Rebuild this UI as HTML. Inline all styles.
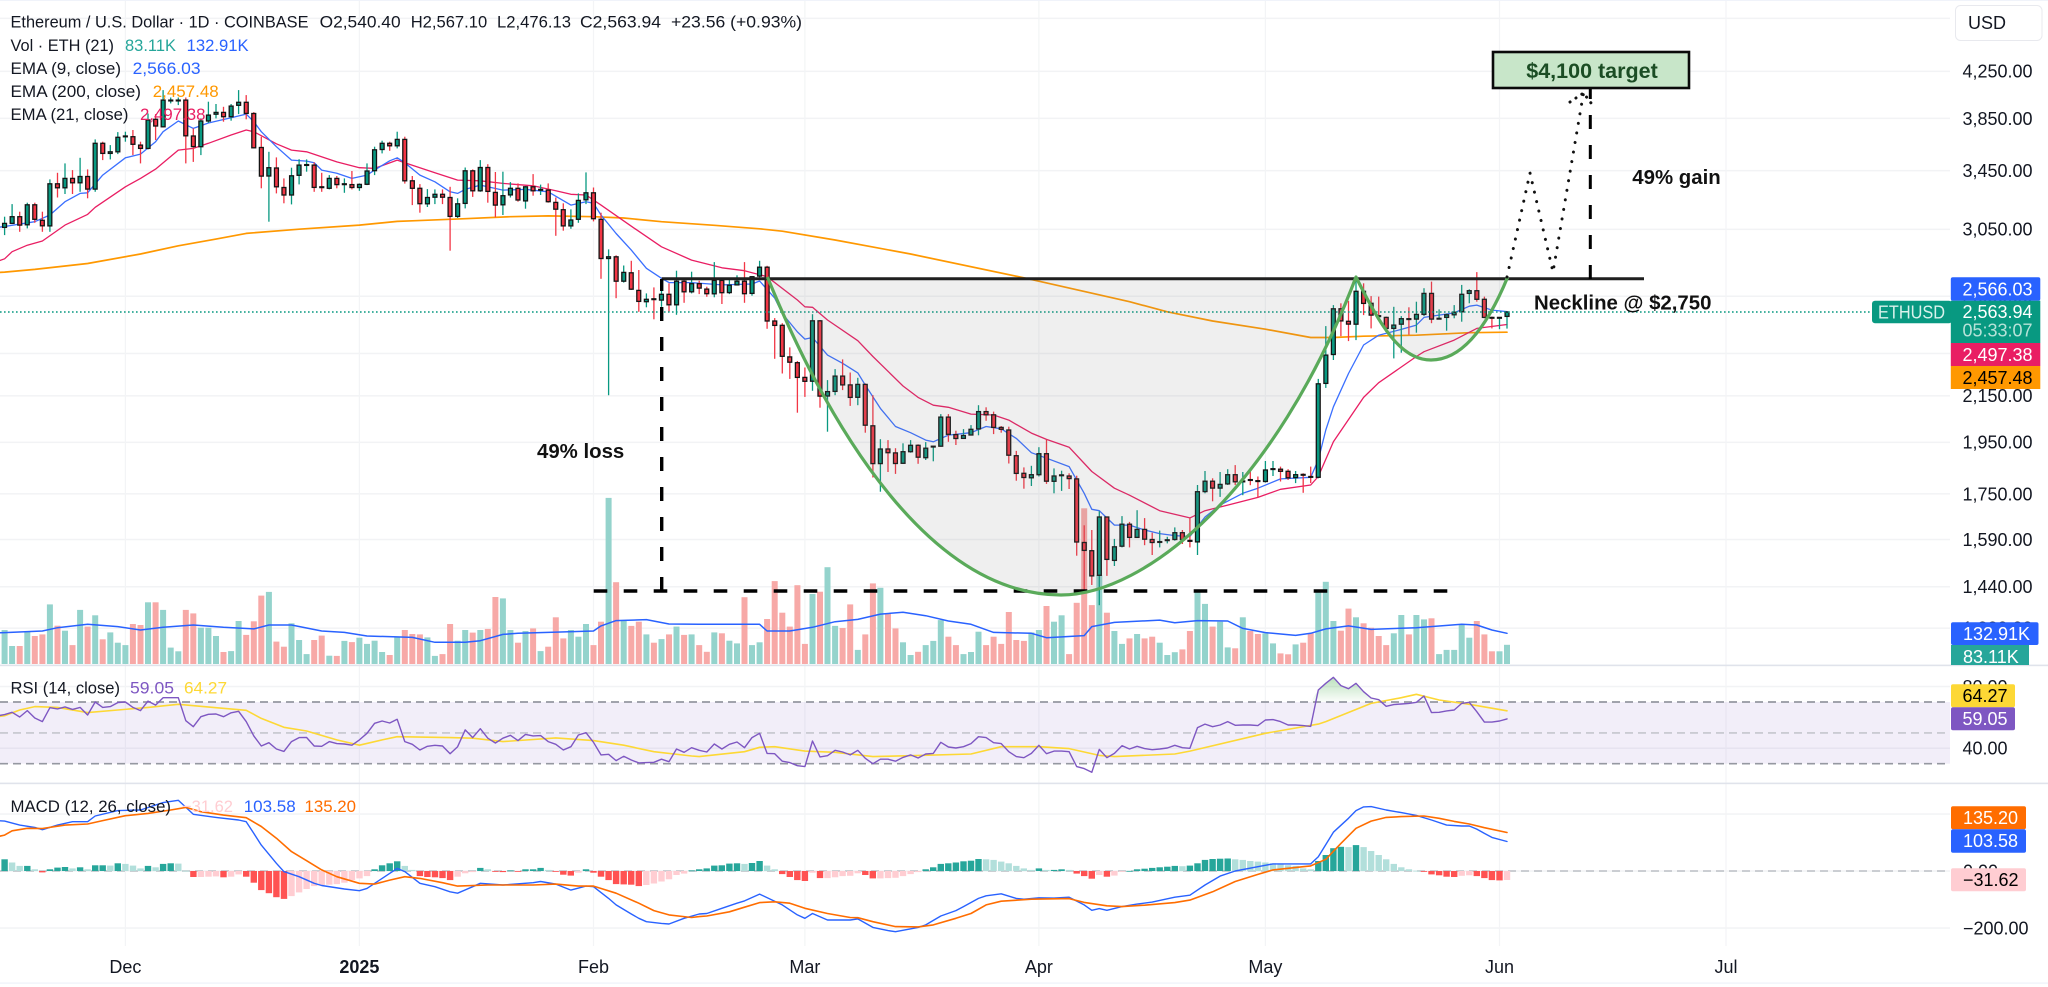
<!DOCTYPE html>
<html lang="en">
<head>
<meta charset="utf-8">
<title>Ethereum / U.S. Dollar chart</title>
<style>
html,body{margin:0;padding:0;background:#fff;width:2048px;height:987px;overflow:hidden}
svg{display:block;font-family:"Liberation Sans",sans-serif}
.axis{font-size:18px;fill:#131722}
.leg{font-size:17px;fill:#131722}
.lab{font-size:18px}
.note{font-size:20.4px;font-weight:bold;fill:#111}
</style>
</head>
<body>
<svg id="chart" width="2048" height="987" viewBox="0 0 2048 987" xmlns="http://www.w3.org/2000/svg">
  <defs>
    <linearGradient id="obGrad" x1="0" y1="0" x2="0" y2="1">
      <stop offset="0" stop-color="#4caf50" stop-opacity=".38"/>
      <stop offset="1" stop-color="#4caf50" stop-opacity=".02"/>
    </linearGradient>
  </defs>
  <rect x="0" y="0" width="2048" height="987" fill="#ffffff"/>
  <g id="grid"></g>
  <rect x="0" y="702" width="1950" height="61.7" fill="#7e57c2" fill-opacity=".1"/>
  <g id="rsiGuides"></g>
  <g id="panes">
    <rect x="0" y="0" width="2048" height="1" fill="#f0f3fa"/>
    <rect x="0" y="664.6" width="2048" height="1.6" fill="#e0e3eb"/>
    <rect x="0" y="782.6" width="2048" height="1.6" fill="#e0e3eb"/>
    <rect x="0" y="982.4" width="2048" height="1.4" fill="#f0f3fa"/>
  </g>
  <g id="volume"></g>
  <g id="macdHist"></g>
  <g id="lines"></g>
  <g id="candles"></g>
  <line x1="0" y1="312" x2="1950" y2="312" stroke="#089981" stroke-width="1.5" stroke-dasharray="1.6 2.4"/>

  <g>
    <path fill="#808080" fill-opacity=".125" d="M767.4 278 C830 430 930 595 1061 595 C1145 595 1275 490 1356 278 Z"/>
    <path fill="#808080" fill-opacity=".125" d="M1356 278 C1380 325 1400 360 1431 360 C1465 360 1490 320 1507.7 278 Z"/>
    <line x1="661.7" y1="278.7" x2="1644" y2="278.7" stroke="#1f1f1f" stroke-width="3"/>
    <line x1="661.7" y1="591" x2="661.7" y2="279" stroke="#000" stroke-width="3.4" stroke-dasharray="14 16"/>
    <line x1="593.7" y1="591" x2="1447.5" y2="591" stroke="#000" stroke-width="3.4" stroke-dasharray="13.6 16.4"/>
    <line x1="1590.3" y1="279" x2="1590.3" y2="88" stroke="#000" stroke-width="3" stroke-dasharray="14 16"/>
    <path fill="none" stroke="#5aaa5a" stroke-width="3.2" stroke-linejoin="round" d="M767.4 277 C830 430 930 595 1061 595 C1145 595 1275 490 1356 277 C1380 325 1400 360 1431 360 C1465 360 1490 320 1507.7 277"/>
    <path fill="none" stroke="#111" stroke-width="3" stroke-linecap="round" stroke-dasharray="0.1 9.6" d="M1507 277 L1530 173 L1553 272 L1583.5 93"/>
    <path fill="none" stroke="#111" stroke-width="3" stroke-linecap="round" stroke-dasharray="0.1 7" d="M1570 102 L1583.5 93 L1594 107"/>
    <rect x="1493" y="52" width="196" height="36" fill="#c8e6c9" stroke="#0a0a0a" stroke-width="2.6"/>
    <text x="1592" y="78" text-anchor="middle" font-size="21.5" font-weight="bold" fill="#1b4d24">$4,100 target</text>
    <text class="note" x="1534" y="309.5">Neckline @ $2,750</text>
    <text class="note" x="1632.3" y="184">49% gain</text>
    <text class="note" x="537" y="458">49% loss</text>
  </g>

  <g>
    <text class="leg" x="10.5" y="27.5" textLength="298" lengthAdjust="spacingAndGlyphs">Ethereum / U.S. Dollar · 1D · COINBASE</text>
    <text class="leg" x="319.6" y="27.5" textLength="81" lengthAdjust="spacingAndGlyphs">O2,540.40</text>
    <text class="leg" x="410.7" y="27.5" textLength="76.5" lengthAdjust="spacingAndGlyphs">H2,567.10</text>
    <text class="leg" x="497" y="27.5" textLength="74" lengthAdjust="spacingAndGlyphs">L2,476.13</text>
    <text class="leg" x="580" y="27.5" textLength="81" lengthAdjust="spacingAndGlyphs">C2,563.94</text>
    <text class="leg" x="671" y="27.5" textLength="131" lengthAdjust="spacingAndGlyphs">+23.56 (+0.93%)</text>

    <text class="leg" x="10.5" y="51" textLength="103.5" lengthAdjust="spacingAndGlyphs">Vol · ETH (21)</text>
    <text class="leg" x="125" y="51" style="fill:#26a69a" textLength="51" lengthAdjust="spacingAndGlyphs">83.11K</text>
    <text class="leg" x="186.6" y="51" style="fill:#2962ff" textLength="62" lengthAdjust="spacingAndGlyphs">132.91K</text>

    <text class="leg" x="10.5" y="74" textLength="110.5" lengthAdjust="spacingAndGlyphs">EMA (9, close)</text>
    <text class="leg" x="132.6" y="74" style="fill:#2962ff" textLength="68" lengthAdjust="spacingAndGlyphs">2,566.03</text>

    <text class="leg" x="10.5" y="97" textLength="130.5" lengthAdjust="spacingAndGlyphs">EMA (200, close)</text>
    <text class="leg" x="152.7" y="97" style="fill:#ff9800" textLength="66" lengthAdjust="spacingAndGlyphs">2,457.48</text>

    <text class="leg" x="10.5" y="120" textLength="118" lengthAdjust="spacingAndGlyphs">EMA (21, close)</text>
    <text class="leg" x="140" y="120" style="fill:#e91e63" textLength="65.5" lengthAdjust="spacingAndGlyphs">2,497.38</text>

    <text class="leg" x="10.5" y="693.3" textLength="109.5" lengthAdjust="spacingAndGlyphs">RSI (14, close)</text>
    <text class="leg" x="130" y="693.3" style="fill:#7e57c2" textLength="44" lengthAdjust="spacingAndGlyphs">59.05</text>
    <text class="leg" x="184" y="693.3" style="fill:#fdd835" textLength="43" lengthAdjust="spacingAndGlyphs">64.27</text>

    <text class="leg" x="10.5" y="812" textLength="160.5" lengthAdjust="spacingAndGlyphs">MACD (12, 26, close)</text>
    <text class="leg" x="182" y="812" style="fill:#ffcdd2" textLength="51" lengthAdjust="spacingAndGlyphs">−31.62</text>
    <text class="leg" x="243.7" y="812" style="fill:#2962ff" textLength="52" lengthAdjust="spacingAndGlyphs">103.58</text>
    <text class="leg" x="304.5" y="812" style="fill:#ff6d00" textLength="51.5" lengthAdjust="spacingAndGlyphs">135.20</text>
  </g>

  <g id="axisLabels"></g>

  <g>
    <rect x="1955.5" y="5.5" width="86.5" height="35" rx="5" fill="#fff" stroke="#e8e9ee" stroke-width="1"/>
    <text class="axis" x="1968" y="29">USD</text>
  </g>

  <g>
    <rect x="1872" y="300.7" width="80" height="22.6" rx="3" fill="#089981"/>
    <text class="lab" x="1878" y="318.5" fill="#d9f2ec" textLength="67" lengthAdjust="spacingAndGlyphs">ETHUSD</text>

    <rect x="1950.8" y="277.3" width="89.5" height="23.4" rx="2" fill="#2962ff"/>
    <text class="lab" x="1962.5" y="295.5" fill="#fff">2,566.03</text>

    <rect x="1950.8" y="300.7" width="89.5" height="42.3" fill="#089981"/>
    <text class="lab" x="1962.5" y="318" fill="#fff">2,563.94</text>
    <text class="lab" x="1962.5" y="336.5" fill="#b6e2d8">05:33:07</text>

    <rect x="1950.8" y="343" width="89.5" height="23" fill="#e91e63"/>
    <text class="lab" x="1962.5" y="360.8" fill="#fff">2,497.38</text>

    <rect x="1950.8" y="366" width="89.5" height="23" fill="#ff9800"/>
    <text class="lab" x="1962.5" y="383.8" fill="#000">2,457.48</text>

    <rect x="1951" y="622.3" width="87.5" height="22.7" rx="2" fill="#2962ff"/>
    <text class="lab" x="1963" y="640" fill="#fff">132.91K</text>
    <rect x="1951" y="645" width="78" height="20" fill="#26a69a"/>
    <text class="lab" x="1963" y="663" fill="#fff">83.11K</text>

    <rect x="1951" y="684.3" width="64" height="23" rx="2" fill="#fdd835"/>
    <text class="lab" x="1962.5" y="702" fill="#000">64.27</text>
    <rect x="1951" y="707.3" width="64" height="23" rx="2" fill="#7e57c2"/>
    <text class="lab" x="1962.5" y="725" fill="#fff">59.05</text>

    <rect x="1951" y="806.3" width="75" height="23" rx="2" fill="#ff6d00"/>
    <text class="lab" x="1963" y="824" fill="#fff">135.20</text>
    <rect x="1951" y="829.3" width="75" height="23.4" rx="2" fill="#2962ff"/>
    <text class="lab" x="1963" y="847" fill="#fff">103.58</text>
    <rect x="1951" y="868.3" width="75" height="23" rx="2" fill="#ffcdd2"/>
    <text class="lab" x="1963" y="886" fill="#000">−31.62</text>
  </g>
</svg>

<script>
// ---- Candles: one entry per day, Nov 15 2024 to Jun 2 2025 ----
const opens = [3062,3088,3132,3079,3211,3108,3072,3356,3328,3394,3363,3408,3319,3654,3577,3589,3705,3705,3640,3615,3843,3783,3995,3995,4001,3710,3628,3829,3884,3899,3864,3957,3982,3890,3622,3411,3469,3330,3278,3416,3490,3490,3335,3324,3394,3352,3350,3330,3352,3449,3607,3654,3635,3684,3377,3324,3218,3263,3283,3261,3134,3221,3449,3307,3473,3296,3211,3278,3324,3238,3335,3314,3312,3227,3178,3072,3115,3245,3293,3115,2869,2879,2735,2784,2683,2620,2636,2629,2661,2603,2735,2675,2721,2690,2664,2740,2670,2714,2735,2666,2765,2817,2516,2493,2333,2305,2235,2217,2517,2149,2170,2241,2200,2143,2202,2019,1865,1923,1907,1866,1912,1938,1888,1932,1934,2056,1982,1966,1980,2006,2080,2066,2012,2001,1896,1827,1810,1822,1904,1797,1819,1817,1806,1580,1553,1475,1667,1522,1568,1642,1597,1624,1590,1581,1587,1590,1613,1587,1582,1758,1797,1771,1787,1822,1796,1803,1799,1796,1843,1843,1835,1811,1823,1815,1812,2207,2345,2581,2514,2499,2678,2611,2544,2535,2477,2499,2528,2526,2551,2666,2528,2535,2549,2565,2666,2681,2633,2535,2533,2540.40];
const highs = [3132,3216,3165,3225,3225,3165,3387,3434,3503,3454,3544,3459,3684,3666,3640,3741,3744,3757,3666,3890,3885,4086,4023,4023,4023,3770,3850,3987,3968,3945,3968,4086,4043,3901,3705,3589,3547,3394,3471,3534,3532,3510,3434,3418,3411,3394,3447,3359,3503,3628,3674,3666,3744,3705,3411,3354,3319,3317,3317,3335,3255,3473,3459,3527,3497,3440,3442,3368,3359,3340,3425,3350,3359,3261,3221,3181,3289,3437,3330,3158,2924,2888,2827,2855,2800,2666,2700,2700,2723,2796,2746,2790,2738,2704,2847,2749,2746,2769,2847,2765,2855,2825,2531,2504,2380,2313,2282,2552,2521,2222,2274,2321,2258,2233,2207,2153,1963,1959,1926,1946,1959,1942,1951,1934,2069,2069,1998,2005,2022,2108,2099,2080,2018,2015,1915,1850,1856,1930,1962,1846,1837,1827,1818,1638,1622,1687,1667,1592,1670,1650,1691,1663,1613,1620,1599,1631,1622,1665,1783,1836,1808,1832,1843,1859,1832,1837,1815,1875,1875,1853,1843,1836,1827,1853,2228,2489,2601,2611,2625,2748,2723,2651,2648,2539,2592,2542,2589,2620,2695,2733,2578,2556,2601,2714,2689,2788,2648,2539,2535,2567.10];
const lows = [3013,3084,3034,3056,3092,3034,3034,3261,3285,3285,3300,3255,3300,3527,3532,3572,3666,3564,3503,3607,3679,3778,3973,3959,3503,3514,3564,3813,3850,3823,3831,3885,3843,3615,3324,3099,3289,3221,3214,3352,3442,3300,3300,3317,3324,3293,3317,3307,3347,3418,3577,3597,3615,3357,3209,3158,3196,3216,3216,2916,3123,3187,3265,3300,3225,3128,3143,3261,3232,3185,3273,3278,3225,3009,3041,3053,3092,3216,3101,2749,2153,2639,2727,2685,2565,2589,2525,2592,2565,2549,2614,2666,2662,2647,2644,2607,2662,2714,2614,2653,2752,2475,2324,2253,2228,2075,2145,2173,2097,1994,2153,2176,2105,2108,1990,1811,1758,1832,1825,1864,1908,1864,1879,1874,1932,1952,1939,1965,1978,1979,2040,1984,1990,1865,1799,1769,1779,1815,1787,1752,1761,1768,1537,1420,1445,1385,1473,1504,1564,1564,1595,1571,1539,1564,1577,1586,1575,1564,1539,1752,1723,1739,1783,1783,1745,1782,1737,1792,1817,1796,1802,1790,1754,1790,1808,2186,2318,2437,2412,2417,2547,2477,2525,2472,2326,2354,2445,2455,2542,2504,2525,2465,2530,2512,2611,2620,2530,2477,2473,2476.13];
const closes = [3088,3132,3077,3211,3115,3072,3356,3328,3394,3363,3408,3319,3654,3577,3589,3700,3710,3646,3615,3837,3789,4001,4001,4001,3712,3628,3829,3877,3899,3864,3951,3982,3890,3620,3411,3471,3335,3278,3413,3490,3494,3330,3330,3394,3350,3356,3330,3352,3447,3604,3654,3635,3684,3377,3324,3218,3261,3283,3263,3134,3218,3449,3307,3473,3303,3209,3273,3324,3243,3335,3307,3317,3232,3181,3072,3110,3241,3293,3119,2869,2879,2735,2786,2690,2622,2633,2633,2661,2603,2735,2675,2721,2696,2664,2740,2670,2712,2735,2664,2761,2817,2516,2493,2336,2307,2235,2217,2517,2149,2169,2241,2200,2143,2202,2021,1865,1923,1908,1865,1912,1938,1890,1926,1934,2056,1983,1966,1978,2004,2080,2066,2012,2004,1898,1827,1811,1822,1904,1797,1817,1821,1807,1582,1554,1473,1667,1525,1566,1642,1597,1624,1591,1580,1583,1589,1613,1590,1584,1758,1797,1771,1785,1822,1795,1798,1802,1798,1840,1845,1835,1810,1822,1822,1813,2205,2342,2581,2516,2499,2678,2611,2547,2539,2477,2494,2528,2526,2551,2666,2526,2530,2549,2563,2661,2681,2633,2535,2533,2535,2563.94];

// ---- Volume, thousands of ETH ----
const volumes = [147,78,78,140,121,128,258,166,144,82,234,162,211,107,137,92,82,173,169,267,267,234,71,55,234,219,157,157,121,52,56,186,126,185,296,312,97,75,176,104,43,104,123,36,35,100,95,114,87,101,52,39,115,147,130,128,115,35,43,173,101,147,136,147,152,290,284,147,92,143,154,56,75,202,111,147,118,173,82,183,719,354,188,165,183,128,92,108,128,162,126,128,82,53,137,133,101,89,289,82,94,195,359,222,162,341,87,303,313,419,165,156,258,61,128,349,330,219,154,94,39,53,82,100,190,118,82,43,52,140,82,118,87,225,104,100,137,147,251,183,211,43,265,674,255,385,222,143,87,111,130,111,118,92,39,51,63,143,320,260,162,183,72,68,202,143,130,133,89,46,42,85,92,133,320,356,186,144,240,202,176,157,121,82,133,212,128,212,193,198,43,61,61,169,114,186,128,55,55,83.11];
const volMaDays = [-1,0,5,7,11,15,18,21,25,29,33,35,38,42,45,48,54,57,61,63,66,68,72,78,79,81,85,88,92,100,101,104,107,110,113,116,119,122,125,128,131,136,138,143,144,147,153,155,158,162,164,167,171,173,175,178,181,187,193,195,197,199];
const volMaValues = [135,136,143,157,172,162,147,159,169,159,152,169,169,143,137,121,115,94,94,101,128,133,137,143,165,188,192,173,172,172,143,143,159,183,193,216,224,209,186,172,137,133,114,123,162,180,190,179,188,186,154,136,124,133,152,165,150,157,172,169,147,132.91];

// ---- Price EMAs ----
const ema9Days = [-1,0,4,6,8,10,11,13,16,18,20,21,23,25,27,30,32,33,34,36,38,40,41,42,44,46,48,49,51,52,53,55,57,59,60,61,63,66,69,72,75,77,78,79,81,83,85,87,88,91,95,99,100,102,103,105,106,107,109,111,113,114,116,118,120,122,123,125,128,130,132,134,136,138,141,143,144,145,147,149,151,153,155,157,159,161,164,166,169,173,174,175,176,178,180,182,185,187,188,192,194,195,197,199];
const ema9Values = [3062,3068,3099,3143,3232,3289,3293,3418,3544,3572,3666,3744,3829,3770,3813,3855,3885,3823,3744,3628,3527,3520,3508,3454,3431,3394,3418,3454,3522,3544,3508,3418,3370,3300,3289,3317,3347,3312,3317,3300,3209,3232,3221,3143,3023,2920,2810,2752,2727,2727,2714,2719,2736,2640,2556,2459,2422,2430,2342,2302,2256,2199,2094,2016,1990,1959,1952,1980,1990,2016,2006,1966,1908,1886,1853,1752,1694,1689,1639,1639,1622,1610,1603,1600,1667,1709,1752,1771,1806,1812,1879,2001,2101,2253,2392,2442,2472,2494,2535,2559,2595,2601,2574,2566.03];
const ema21Days = [-1,0,1,3,5,8,11,12,16,18,20,23,25,27,30,32,33,36,38,40,44,47,49,52,53,57,60,63,66,70,73,75,77,79,83,87,91,95,98,101,105,106,107,109,113,115,119,121,123,125,128,131,133,136,138,141,144,147,149,153,157,159,162,166,169,173,174,176,180,182,187,188,192,195,199];
const ema21Values = [2850,2867,2910,2950,2976,3077,3147,3194,3335,3394,3461,3602,3615,3654,3718,3757,3744,3650,3602,3589,3514,3471,3466,3527,3508,3434,3382,3377,3359,3342,3307,3283,3278,3209,3070,2940,2859,2813,2796,2761,2629,2592,2589,2521,2414,2335,2195,2143,2108,2099,2069,2065,2043,1988,1962,1930,1834,1771,1745,1689,1664,1689,1709,1737,1767,1783,1815,1952,2143,2210,2335,2359,2417,2477,2497.38];
const ema200Days = [-1,0,4,11,18,23,28,32,39,47,52,54,61,67,72,78,82,87,94,100,103,110,120,135,149,154,160,167,173,176,180,187,194,199];
const ema200Values = [2785,2788,2804,2839,2896,2946,2988,3024,3051,3077,3101,3105,3119,3132,3137,3132,3123,3099,3076,3053,3038,2982,2896,2755,2620,2565,2516,2473,2430,2430,2437,2442,2455,2457.48];

// ---- RSI: first value belongs to the day before the first full candle ----
const rsiFirstDay = -1;
const rsiValues = [61,61.8,63.3,60.3,64.4,59.6,57.3,66.3,65.5,66.8,65.2,66.5,61.6,70,66.5,67,69.6,70,66.5,64.4,70.6,68,72.8,72.8,72.8,57.9,54,60.5,62,62.2,60.5,63,64,57.3,48,41.5,43.6,39.5,38,44.3,46.9,47,41.5,41.3,44.3,43,42.8,42,45.4,49.7,56.2,57.7,56.4,58.8,44.3,42.6,38.9,41.3,41.9,41.5,36.5,41,51.9,46.9,52.7,46.5,43.4,46.5,48.4,45,49,48,48.2,44.3,42.6,38.9,41,48.6,50.1,43.9,35.7,36.1,32,34.8,32.4,30.5,30.7,30.9,32.9,31.3,39.5,37.4,40.4,38.7,37.6,42.8,39.5,42.6,44.1,40.4,46.9,49.7,36.7,36.5,31.6,30.7,28.7,28.1,44.7,34.4,35.2,38.7,37.6,35.7,38.7,33.5,30,32.9,32.9,31.6,34.1,35.7,33.7,36.3,36.7,43.9,40.8,40.2,41,43,47.5,46.9,43.6,43,37.8,34.6,33.9,36.7,41.9,36.5,38.2,38.2,37.8,28.1,26.8,24.4,39.3,33.9,36.7,41.7,39.5,41.3,39.8,39.1,39.5,40.2,41.9,40.4,40,53.4,55.7,54,55.1,57.3,54.9,55.1,55.1,54.7,58.3,58.6,57.3,55.1,55.1,54.7,54.2,77.8,82.1,86,80.6,78.6,82.1,76.7,72.6,71.5,67.2,68.3,68.7,69.1,69.8,73.9,63.1,63.3,64.2,64.8,69.1,69.8,63.7,57,57,57.7,59.05];
const rsiMaDays = [-1,0,2,4,7,11,15,19,23,28,32,34,37,40,44,47,50,52,59,62,66,73,78,82,86,91,92,98,100,102,106,110,115,120,128,132,137,141,145,147,155,157,167,174,175,181,185,187,190,194,199];
const rsiMaValues = [60.5,61.1,64.8,67,66.5,63.1,64.8,66.5,68.5,66.3,64.6,59.4,53.6,51.2,45.4,42,45.4,47.5,46.9,46.5,44.3,46.7,45,42,37.8,35,34.6,37.8,40.6,41,38.2,37.4,34.6,35.2,36.3,41,41,39.8,35.4,34.6,36.3,38.2,49.7,55.7,57.3,69.1,72.8,75,71.3,68.5,64.27];
const rsiBandTop = 70;
const rsiBandMid = 50;
const rsiBandLow = 30;

// ---- MACD ----
const macdDays = [-1,0,2,4,5,7,9,11,12,15,18,21,23,25,28,31,32,33,34,36,37,39,41,42,45,47,48,50,52,53,55,57,59,60,62,63,66,70,71,73,75,77,78,80,81,83,84,85,87,88,90,92,93,95,97,98,100,103,105,106,107,109,112,113,115,117,118,121,122,124,126,127,129,130,132,134,135,137,139,141,143,144,145,146,148,150,152,155,157,159,161,163,166,168,173,174,176,178,179,180,181,183,185,187,189,191,193,194,195,196,197,199];
const macdValues = [177,175,161,153,145,161,173,173,193,212,214,240,248,199,188,179,173,132,91,27,-2,-20,-43,-51,-63,-69,-61,-26,9,-2,-43,-55,-73,-78,-55,-43,-49,-41,-37,-46,-67,-53,-55,-96,-119,-151,-166,-178,-184,-186,-166,-151,-149,-131,-113,-105,-81,-119,-154,-166,-149,-172,-172,-168,-198,-209,-213,-198,-189,-158,-139,-125,-96,-87,-80,-96,-99,-94,-95,-92,-119,-138,-132,-138,-125,-116,-109,-92,-85,-49,-18,0,15,25,25,50,136,185,212,225,226,214,205,195,179,161,158,158,147,132,118,103.58];
const signalDays = [-1,0,1,3,5,8,11,13,16,19,22,24,26,29,32,34,36,38,40,42,44,47,49,51,53,55,58,60,64,70,73,76,78,81,84,86,88,91,92,93,96,98,100,102,104,106,109,112,113,115,118,121,123,126,128,130,132,136,141,143,146,148,151,155,157,160,163,166,168,172,173,175,177,179,181,183,185,188,190,192,194,196,199];
const signalValues = [120,126,141,150,149,161,165,177,194,202,214,223,208,196,187,156,115,68,36,4,-20,-43,-46,-32,-20,-26,-41,-53,-49,-49,-46,-53,-53,-78,-113,-139,-154,-163,-160,-158,-143,-127,-111,-108,-113,-131,-149,-163,-164,-178,-195,-196,-189,-166,-149,-119,-106,-99,-97,-110,-122,-125,-120,-111,-102,-73,-37,-12,4,15,18,41,97,150,175,188,191,193,185,174,165,152,135.2];
const histValues = [41,30,18,18,6,-5,6,12,14,9,13,6,20,20,19,27,25,19,9,18,13,25,27,26,1,-21,-21,-20,-19,-22,-20,-12,-20,-41,-67,-78,-92,-98,-88,-75,-63,-53,-49,-48,-46,-41,-32,-26,-18,6,20,27,34,18,4,-18,-21,-22,-25,-32,-20,-8,-4,11,6,-2,-4,2,-2,6,6,11,4,-2,-13,-16,-6,6,-6,-20,-32,-46,-47,-48,-53,-49,-44,-37,-29,-14,-9,2,6,9,19,20,26,27,25,28,35,19,6,-11,-21,-32,-35,-6,-25,-25,-22,-18,-17,-8,-14,-26,-26,-25,-24,-18,-11,-4,6,13,25,27,30,34,36,42,41,39,33,27,18,9,4,9,4,4,6,4,-9,-18,-27,-14,-20,-16,-2,0.5,6,8,11,13,15,18,17,19,27,39,42,43,44,41,39,35,33,30,27,25,20,18,9,6,35,56,80,85,84,91,84,70,56,41,25,13,6,1,-2,-12,-15,-20,-21,-17,-15,-18,-25,-32,-33,-31.62];

// ---- Axis ticks ----
const priceTicks = [4750,4250,3850,3450,3050,2650,2350,2150,1950,1750,1590,1440,1320];
const priceTickLabels = ['4,750.00','4,250.00','3,850.00','3,450.00','3,050.00','2,650.00','2,350.00','2,150.00','1,950.00','1,750.00','1,590.00','1,440.00','1,320.00'];
const rsiTicks = [80,40];
const rsiTickLabels = ['80.00','40.00'];
const macdTicks = [200,0,-200];
const macdTickLabels = ['200.00','0.00','−200.00'];
const monthDays = [16,47,78,106,137,167,198,228];
const monthLabels = ['Dec','2025','Feb','Mar','Apr','May','Jun','Jul'];

// ---- Axis functions ----
function xOf(i){return 4.6+7.55*i;}
function yPrice(p){return 586.7-476.2*Math.log(p/1440);}
function yVol(k){return 664-0.231*k;}
function yRsi(r){return 702+(70-r)*1.5425;}
function yMacd(m){return 871-0.285*m;}

const NS='http://www.w3.org/2000/svg';
function mk(tag,attrs,parent){
  const el=document.createElementNS(NS,tag);
  for(const k in attrs){el.setAttribute(k,attrs[k]);}
  parent.appendChild(el);
  return el;
}
function linePath(days,vals,yFn,color,width,parent){
  let d='';
  for(let j=0;j<days.length;j++){
    d+=(j?'L':'M')+xOf(days[j]).toFixed(1)+' '+yFn(vals[j]).toFixed(1)+' ';
  }
  return mk('path',{d:d,fill:'none',stroke:color,'stroke-width':width,'stroke-linejoin':'round','stroke-linecap':'round'},parent);
}

const gridG=document.getElementById('grid');
const GRID='#f2f3f5';
priceTicks.forEach(function(p){
  const el=mk('rect',{x:0,y:(yPrice(p)-0.75).toFixed(1),width:1950,height:1.5,fill:GRID},gridG);
  
  
});
rsiTicks.forEach(function(r){
  const el=mk('rect',{x:0,y:(yRsi(r)-0.75).toFixed(1),width:1950,height:1.5,fill:GRID},gridG);
  
  
});
macdTicks.forEach(function(m){
  const el=mk('rect',{x:0,y:(yMacd(m)-0.75).toFixed(1),width:1950,height:1.5,fill:GRID},gridG);
  
  
});
monthDays.forEach(function(d){
  const el=mk('rect',{x:(xOf(d)-0.6).toFixed(1),y:0,width:1.2,height:946,fill:'#f3f4f6'},gridG);
  
  
});

const guides=document.getElementById('rsiGuides');
[[rsiBandTop,'#9598a1',1.7],[rsiBandMid,'#bcbfc6',1.4],[rsiBandLow,'#9598a1',1.7]].forEach(function(g){
  const el=mk('line',{x1:0,x2:1950,y1:yRsi(g[0]).toFixed(1),y2:yRsi(g[0]).toFixed(1),stroke:g[1],'stroke-width':g[2],'stroke-dasharray':'8 5'},guides);
  
  
});
const zeroLine=mk('line',{x1:0,x2:1950,y1:yMacd(0).toFixed(1),y2:yMacd(0).toFixed(1),stroke:'#bcbfc6','stroke-width':1.5,'stroke-dasharray':'8 5'},guides);



// Volume bars
const volG=document.getElementById('volume');
volumes.forEach(function(v,i){
  const up=closes[i]>=opens[i];
  const top=yVol(v);
  const el=mk('rect',{x:(xOf(i)-3).toFixed(1),y:top.toFixed(1),width:6,height:(664-top).toFixed(1),fill:up?'#94d3cc':'#f7a9a7'},volG);
  
  
});

// MACD histogram
const histG=document.getElementById('macdHist');
histValues.forEach(function(h,i){
  const prev=i?histValues[i-1]:h;
  const rising=h>=prev;
  const color=h>=0?(rising?'#26a69a':'#b2dfdb'):(rising?'#ffcdd2':'#ff5252');
  const y0=yMacd(0);
  const y1=yMacd(h);
  const el=mk('rect',{x:(xOf(i)-3.2).toFixed(1),y:Math.min(y0,y1).toFixed(1),width:6.4,height:Math.max(Math.abs(y1-y0),0.8).toFixed(1),fill:color},histG);
  
  
});

// Indicator lines
const linesG=document.getElementById('lines');
const rsiDays=rsiValues.map(function(_,i){return i+rsiFirstDay;});

const volMaLine=linePath(volMaDays,volMaValues,yVol,'#2962ff',1.5,linesG);



const ema200Line=linePath(ema200Days,ema200Values,yPrice,'#ff9800',1.7,linesG);



const ema21Line=linePath(ema21Days,ema21Values,yPrice,'#e91e63',1.3,linesG);



const ema9Line=linePath(ema9Days,ema9Values,yPrice,'#3a6fff',1.3,linesG);



// RSI overbought fill, built from the RSI series wherever it is above the band
let obPath='';
let obOpen=false;
rsiValues.forEach(function(r,i){
  if(i<150){return;}
  const clamped=Math.max(r,rsiBandTop);
  const day=i+rsiFirstDay;
  if(r>rsiBandTop&&!obOpen){
    obPath+='M'+xOf(day-1).toFixed(1)+' '+yRsi(rsiBandTop).toFixed(1)+' ';
    obOpen=true;
  }
  if(obOpen){
    obPath+='L'+xOf(day).toFixed(1)+' '+yRsi(clamped).toFixed(1)+' ';
    if(r<=rsiBandTop){obPath+='Z ';obOpen=false;}
  }
});
const obFill=mk('path',{d:obPath,fill:'url(#obGrad)'},linesG);



const rsiMaLine=linePath(rsiMaDays,rsiMaValues,yRsi,'#fdd835',1.6,linesG);



const rsiLine=linePath(rsiDays,rsiValues,yRsi,'#7e57c2',1.4,linesG);



const macdLine=linePath(macdDays,macdValues,yMacd,'#2962ff',1.4,linesG);



const signalLine=linePath(signalDays,signalValues,yMacd,'#ff6d00',1.6,linesG);



// Candles
const candleG=document.getElementById('candles');
opens.forEach(function(o,i){
  const c=closes[i];
  const up=c>=o;
  const fill=up?'#089981':'#f23645';
  const x=xOf(i);
  const wick=mk('line',{x1:x.toFixed(1),x2:x.toFixed(1),y1:yPrice(highs[i]).toFixed(1),y2:yPrice(lows[i]).toFixed(1),stroke:fill,'stroke-width':1.3},candleG);
  
  
  const top=yPrice(Math.max(o,c));
  const bot=yPrice(Math.min(o,c));
  const body=mk('rect',{x:(x-1.95).toFixed(1),y:top.toFixed(1),width:3.9,height:Math.max(bot-top,0.8).toFixed(1),fill:fill,stroke:'#141414','stroke-width':1.3},candleG);
  
  
});

// Axis labels
const axisG=document.getElementById('axisLabels');
function tickText(str,x,y,anchor,bold,parent){
  const t=mk('text',{x:x,y:y.toFixed(1),'class':'axis','text-anchor':anchor},parent);
  if(bold){t.setAttribute('font-weight','bold');}
  t.textContent=str;
  return t;
}
priceTicks.forEach(function(p,i){
  const t=tickText(priceTickLabels[i],1962.5,yPrice(p)+6.4,'start',false,axisG);
  
  
});
rsiTicks.forEach(function(r,i){
  const t=tickText(rsiTickLabels[i],1962.5,yRsi(r)+6.4,'start',false,axisG);
  
  
});
macdTicks.forEach(function(m,i){
  const t=tickText(macdTickLabels[i],1963,yMacd(m)+6.4,'start',false,axisG);
  
  
});
monthDays.forEach(function(d,i){
  const t=tickText(monthLabels[i],xOf(d).toFixed(1),973,'middle',monthLabels[i]==='2025',axisG);
  
  
});
</script>
</body>
</html>
